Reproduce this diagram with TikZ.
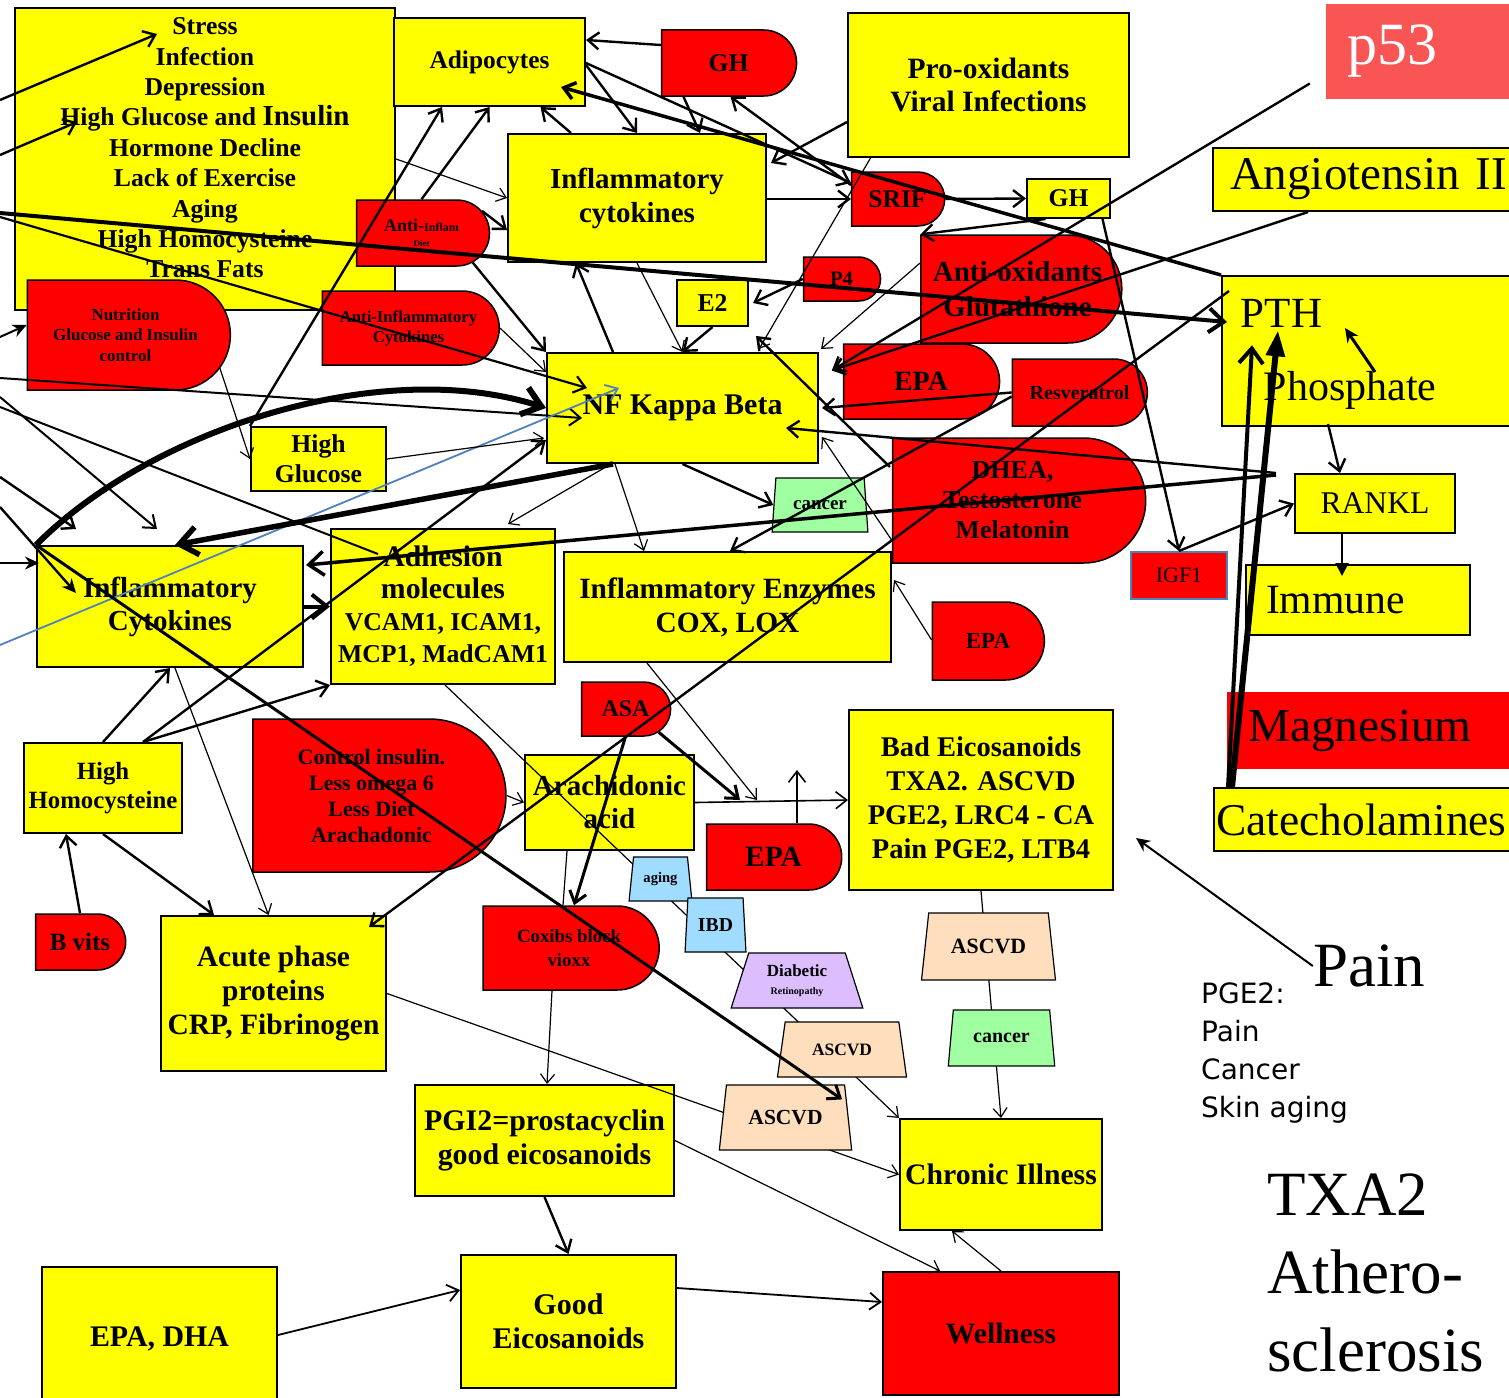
\documentclass[tikz,border=0pt]{standalone}
\usepackage{fontspec}
\setmainfont{Liberation Serif}
\newfontfamily\verd{DejaVu Sans}
\usetikzlibrary{arrows.meta,shapes.misc,shapes.geometric}

\definecolor{ylw}{RGB}{255,255,0}
\definecolor{pfred}{RGB}{250,85,85}
\definecolor{igfblue}{RGB}{79,129,189}
\definecolor{lblue}{RGB}{160,220,255}
\definecolor{lav}{RGB}{220,190,255}
\definecolor{peach}{RGB}{255,222,190}
\definecolor{grn}{RGB}{160,255,160}
\newcommand{\fsz}[2]{\fontsize{#1}{#2}\selectfont}

\begin{document}
\begin{tikzpicture}[x=1pt, y=-1pt,
  sz/.style 2 args={minimum width=#1pt, minimum height=#2pt},
  fb/.style 2 args={font=\bfseries\fontsize{#1}{#2}\selectfont},
  fr/.style 2 args={font=\fontsize{#1}{#2}\selectfont},
  ybox/.style={draw, fill=ylw, line width=2pt, align=center, inner sep=0pt},
  rbox/.style={draw, fill=red, line width=1.5pt, rounded rectangle,
               rounded rectangle left arc=none, align=center, inner sep=0pt},
  trap/.style={draw, line width=1.2pt, trapezium, trapezium stretches=true,
               align=center, inner sep=0pt},
  arr/.style={-{Straight Barb[length=11pt,width=17pt]}, line width=2.4pt},
  thn/.style={-{Straight Barb[length=9pt,width=14pt]}, line width=1.2pt},
  thk/.style={-{Straight Barb[length=15pt,width=24pt]}, line width=4pt},
  fat/.style={-{Straight Barb[length=18pt,width=28pt]}, line width=6pt},
  fil/.style={-{Stealth[length=14pt,width=13pt]}, line width=2.4pt},
  tri/.style={-{Triangle[length=13pt,width=13pt]}, line width=2pt},
  bluearr/.style={-{Straight Barb[length=11pt,width=17pt]}, line width=1.8pt, draw=igfblue}]
\fill[white] (0,0) rectangle (1509,1397);
\useasboundingbox (0,0) rectangle (1509,1397);
\clip (0,0) rectangle (1509,1397);

\coordinate (offA) at (0,100);
\coordinate (offB) at (0,155);
\coordinate (offC) at (0,213);
\coordinate (offD) at (0,217);
\coordinate (offE) at (0,378);
\coordinate (offF) at (0,337);
\coordinate (offG) at (0,397);
\coordinate (offH) at (0,477);
\coordinate (offI) at (0,507);
\coordinate (offJ) at (0,563);
\coordinate (offK) at (0,407);
\coordinate (offL) at (0,645);
\coordinate (flowA) at (757,800);
\coordinate (flowB) at (740,800);
\coordinate (flowC) at (797,770);

\node[ybox, sz={380}{302}, fb={25.7}{30.4}] (stress) at (205,159) {Stress\\Infection\\Depression\\High Glucose and {\fsz{29}{30.4}Insulin}\\Hormone Decline\\Lack of Exercise\\Aging\\High Homocysteine\\Trans Fats\\[-8pt]\mbox{}};
\node[ybox, sz={191}{88}, fb={25.4}{30}] (adipo) at (489.5,62) {Adipocytes};
\node[rbox, sz={135}{66}, fb={25.7}{30}] (ghr) at (728.5,63) {GH};
\node[ybox, sz={281}{144}, fb={29.5}{33}] (prox) at (988.5,85) {Pro-oxidants\\Viral Infections};
\node[fill=pfred, minimum height=95pt, inner xsep=21pt, text width=152pt, align=left, text=white, fr={60}{60}] (pfs) at (1423,51.5) {p53};
\node[ybox, sz={258}{128}, fb={29}{34}] (cytu) at (637,198) {Inflammatory\\cytokines};
\node[rbox, sz={93}{54}, fb={25.5}{30}] (srif) at (897.5,199) {SRIF};
\node[ybox, sz={83}{39}, fb={25.6}{30}] (ghy) at (1068.5,198.5) {GH};
\node[ybox, minimum height=63pt, inner xsep=17pt, text width=300pt, align=left, fr={47}{50}] (angio) at (1380,179.5) {Angiotensin II};
\node[rbox, sz={133}{66}, fb={18}{18}] (aid) at (421.5,233) {Anti-{\fsz{12}{12}Inflam}\\[-3pt]{\fsz{9}{9}Diet}};
\node[rbox, sz={201}{108}, fb={29}{35}] (antiox) at (1017.5,289) {Anti-oxidants\\Glutathione};
\node[rbox, sz={77}{44}, fb={20.7}{24}] (pfour) at (841.5,279) {P4};
\node[ybox, sz={71}{46}, fb={25.7}{30}] (etwo) at (712.5,303) {E2};
\node[ybox, sz={298}{150}] (pth) at (1371,351) {};
\node[fr={43}{43}, inner sep=0pt] (pthtxt) at (1281.5,313) {PTH};
\node[fr={42}{42}, inner sep=0pt] (phostxt) at (1350,390) {Phosphate};
\node[rbox, sz={203}{110}, fb={17}{20.5}] (nutr) at (125.5,335) {Nutrition\\Glucose and Insulin\\control};
\node[rbox, sz={177}{74}, fb={16.7}{20}] (aic) at (408.5,328) {Anti-Inflammatory\\Cytokines};
\node[ybox, sz={271}{110}, fb={30}{34}] (nfkb) at (682.5,408) {NF Kappa Beta};
\node[rbox, sz={156}{75}, fb={28}{30}] (epau) at (921,381.5) {EPA};
\node[rbox, sz={135}{67}, fb={20}{24}] (resv) at (1079.5,392.5) {Resveratrol};
\node[ybox, sz={135}{64}, fb={25.7}{30}] (hglu) at (318.5,459) {High\\Glucose};
\node[rbox, sz={253}{125}, fb={26}{30}] (dhea) at (1012.5,500.5) {DHEA,\\Testosterone\\Melatonin};
\node[ybox, sz={160}{59}, fr={31.6}{34}] (rankl) at (1375,503.5) {RANKL};
\node[draw=igfblue, fill=red, line width=2pt, sz={96}{47}, fr={22}{24}, inner sep=0pt] (igf) at (1179,575.5) {IGF1};
\node[ybox, sz={266}{121}, fb={29}{33}] (cytl) at (170,606.5) {Inflammatory\\Cytokines};
\node[ybox, sz={224}{155}, fb={29.8}{32}] (adh) at (443,606.5) {Adhesion\\molecules\\{\fsz{25.7}{30}VCAM1, ICAM1,}\\{\fsz{25.7}{30}MCP1, MadCAM1}};
\node[ybox, sz={327}{110}, fb={29.4}{34}] (enz) at (727.5,607) {Inflammatory Enzymes\\COX, LOX};
\node[ybox, minimum height=70pt, inner xsep=20pt, text width=184pt, align=left, fr={41.7}{44}] (immune) at (1358,600) {Immune};
\node[rbox, sz={112}{78}, fb={23}{26}] (epam) at (988,641) {EPA};
\node[rbox, sz={89}{54}, fb={24}{26}] (asa) at (625.5,709) {ASA};
\node[fill=red, minimum height=77pt, inner xsep=21pt, text width=251pt, align=left, fr={47.4}{50}] (mag) at (1373.5,730.5) {Magnesium};
\node[ybox, sz={158}{90}, fb={24.8}{29}] (hhcy) at (103,788) {High\\Homocysteine};
\node[rbox, sz={253}{153}, fb={22}{26}] (ctrl) at (371.5,795.5) {Control insulin.\\Less omega 6\\Less Diet\\Arachadonic};
\node[ybox, sz={169}{95}, fb={29}{33}] (arach) at (609.5,802.5) {Arachidonic\\acid};
\node[ybox, sz={264}{180}, fb={28.5}{34}] (bad) at (981,800) {Bad Eicosanoids\\TXA2. ASCVD\\PGE2, LRC4 - CA\\Pain PGE2, LTB4};
\node[rbox, sz={135}{66}, fb={29.5}{30}] (epal) at (773.5,857) {EPA};
\node[ybox, minimum height=63pt, inner xsep=2pt, text width=302pt, align=left, fr={45.5}{50}] (cat) at (1367,819.5) {Catecholamines};
\node[rbox, sz={176}{84}, fb={18.8}{24}] (cox) at (569,948) {Coxibs block\\vioxx};
\node[rbox, sz={90}{56}, fb={25}{28}] (bvit) at (80,942) {B vits};
\node[ybox, sz={225}{155}, fb={29.5}{34}] (acute) at (273.5,993.5) {Acute phase\\proteins\\CRP, Fibrinogen};
\node[ybox, sz={259}{111}, fb={29.9}{34}] (pgi) at (544.5,1140.5) {PGI2=prostacyclin\\good eicosanoids};
\node[ybox, sz={202}{111}, fb={29.7}{34}] (chronic) at (1001,1174.5) {Chronic Illness};
\node[ybox, sz={235}{143}, fb={29.9}{34}] (epadha) at (159.5,1338.5) {EPA, DHA};
\node[ybox, sz={215}{133}, fb={30}{34}] (good) at (568.5,1321.5) {Good\\Eicosanoids};
\node[draw, fill=red, line width=2pt, sz={236}{123}, fb={29.6}{34}, inner sep=0pt, align=center] (well) at (1001,1333.5) {Wellness};
\node[anchor=north west, align=left, inner sep=0pt, font=\verd\fontsize{28}{38}\selectfont] (pge) at (1201,983) {PGE2:\\Pain\\Cancer\\Skin aging};
\node[fr={63}{63}, inner sep=0pt] (pain) at (1369,966) {Pain};
\node[anchor=north west, align=left, inner sep=0pt, fr={63}{78}] (txa) at (1267,1174) {TXA2\\Athero-\\sclerosis};

\draw[thn] ([xshift=2pt]adh.south) -- (chronic.north west);
\draw[thn] (bad.south) -- (chronic.north);
\draw[thn] (acute.east) -- (chronic.west);

\node[trap, fill=grn, sz={96}{54}, trapezium angle=76, fb={19}{20}] (canu) at (820,505) {cancer};
\node[trap, fill=lblue, sz={63}{44}, trapezium angle=78, fb={14.6}{16}] (aging) at (660.5,879) {aging};
\node[trap, fill=lblue, sz={61}{54}, trapezium angle=82, fb={19.7}{22}] (ibd) at (715.5,925) {IBD};
\node[trap, fill=lav, sz={132}{55}, trapezium angle=71, fb={17}{18}] (diab) at (797,980.5) {Diabetic\\{\fsz{10}{11}Retinopathy}};
\node[trap, fill=peach, sz={130}{55}, trapezium angle=71, fb={17.4}{20}] (ascm) at (842,1049.5) {ASCVD};
\node[trap, fill=peach, sz={133}{65}, trapezium angle=73, fb={21.5}{24}] (ascl) at (785.5,1117.5) {ASCVD};
\node[trap, fill=peach, sz={135}{67}, trapezium angle=73, fb={21.8}{24}] (ascr) at (988.5,946.5) {ASCVD};
\node[trap, fill=grn, sz={107}{56}, trapezium angle=73, fb={20}{22}] (canl) at (1001.5,1038) {cancer};

\draw[arr] (offA) -- ([xshift=-48pt,yshift=-27pt]stress.north);
\draw[arr] (offB) -- ([xshift=63pt,yshift=37pt]stress.west);
\draw[thk] (offC) -- ([xshift=6pt,yshift=29pt]pth.west);
\draw[arr, line width=2.2pt] (offD) -- ([xshift=41pt,yshift=20pt]nfkb.west);
\draw[arr, line width=2pt] (offE) -- ([xshift=36pt,yshift=-10pt]nfkb.west);
\draw[fil, line width=2pt] (offF) -- ([yshift=10pt]nutr.west);
\draw[arr, line width=2pt] (offG) -- ([xshift=-13pt,yshift=16pt]cytl.north);
\draw[arr] (offH) -- ([xshift=40pt,yshift=16pt]cytl.north west);
\draw[fil] (offI) -- ([xshift=40pt,yshift=13.5pt]cytl.west);
\draw[fil, line width=2pt] (offJ) -- ([xshift=3pt,yshift=43.5pt]cytl.west);
\draw[line width=2pt] (offK) -- ([xshift=48pt,yshift=-26pt]adh.north west);
\draw[bluearr] (offL) -- ([xshift=73pt,yshift=20pt]nfkb.west);

\draw[thn] (stress.east) -- (cytu.west);
\draw[arr] (aid.20) -- ([yshift=-32pt]cytu.west);
\draw[arr] (aid.north) -- (adipo.south);
\draw[arr] (hglu.north west) -- ([xshift=-47.5pt]adipo.south);
\draw[arr] (aid.-30) -- (nfkb.north west);
\draw[arr] ([xshift=64pt]cytu.north west) -- ([xshift=51pt]adipo.south);
\draw[arr] ([yshift=-3pt]adipo.east) -- (cytu.north);
\draw[arr] ([yshift=-1pt]adipo.east) -- ([yshift=16pt]srif.west);
\draw[arr] ([yshift=18pt]ghr.west) -- ([yshift=22pt]adipo.east);
\draw[arr] ([xshift=-45pt]ghr.south) -- ([xshift=63pt]cytu.north);
\draw[arr] ([yshift=14pt]srif.west) -- ([xshift=2pt]ghr.south);
\draw[arr, line width=3.5pt] (pth.north west) -- ([xshift=-25pt,yshift=-25pt]adipo.east);
\draw[arr] ([yshift=-1pt]cytu.east) -- (srif.west);
\draw[arr] ([yshift=-37pt]prox.west) -- ([xshift=4pt,yshift=35pt]cytu.east);
\draw[thn] ([xshift=-118pt]prox.south) -- ([xshift=-60pt,yshift=3pt]nfkb.north east);
\draw[arr] (srif.east) -- (ghy.west);
\draw[arr] ([xshift=-23pt]ghy.south) -- ([xshift=-97pt]antiox.north);
\draw[arr] ([xshift=34pt]ghy.south) -- (igf.north);
\draw[arr] (igf.north) -- (rankl.west);
\draw[arr] ([xshift=-43pt,yshift=3pt]pth.south) -- ([xshift=-35pt]rankl.north);
\draw[tri] ([xshift=-33pt]rankl.south) -- ([xshift=-16pt,yshift=-12pt]immune.north);
\draw[fil, line width=3pt] ([xshift=25pt,yshift=18pt]phostxt.center) -- ([xshift=63.5pt,yshift=-15pt]pthtxt.center);
\draw[-{Triangle[length=26pt,width=18pt]}, line width=6pt] ([xshift=19pt]cat.north west) -- ([xshift=-3.5pt,yshift=-3pt]pthtxt.south);
\draw[thk] ([xshift=15pt]cat.north west) -- ([xshift=-29.5pt,yshift=-18pt]pthtxt.south);
\draw[fil, line width=2pt] (pain.west) -- ([xshift=22pt,yshift=-38pt]bad.east);
\draw[arr] ([xshift=-16pt,yshift=-32pt]pfs.west) -- ([xshift=-11pt,yshift=11pt]epau.west);
\draw[arr] ([xshift=96pt]angio.south west) -- ([xshift=-11pt,yshift=11pt]epau.west);
\draw[thn] ([yshift=26pt]antiox.west) -- ([xshift=2pt,yshift=3pt]nfkb.north east);
\draw[arr] (resv.west) -- ([xshift=3pt]nfkb.east);
\draw[arr] ([xshift=-2pt,yshift=33.5pt]dhea.west) -- ([xshift=-63pt,yshift=16pt]nfkb.north east);
\draw[thn] ([yshift=-40pt]dhea.west) -- ([xshift=3pt,yshift=-29pt]nfkb.east);
\draw[arr] ([xshift=-18pt]rankl.north west) -- ([xshift=-33pt,yshift=-20pt]nfkb.east);
\draw[thk, line width=3.5pt] ([xshift=-18pt,yshift=-2pt]rankl.north west) -- ([xshift=2pt,yshift=41.5pt]cytl.east);
\draw[fat, line width=5.5pt] ([xshift=-69.5pt]nfkb.south) -- ([xshift=5pt]cytl.north);
\draw[fat] (cytl.north west) .. controls (150,430) and (380,355) .. (nfkb.west);
\draw[arr] (hhcy.north) -- (cytl.south);
\draw[arr] ([xshift=40pt]hhcy.north) -- (adh.south west);
\draw[arr] ([xshift=40pt]hhcy.north) -- ([yshift=-32pt]nfkb.west);
\draw[thn] (hglu.east) -- ([xshift=-2pt,yshift=-30pt]nfkb.west);
\draw[thn] ([xshift=94pt,yshift=-32pt]nutr.center) -- (hglu.west);
\draw[thn] (aic.east) -- ([yshift=36pt]nfkb.west);
\draw[thk] (cytl.east) -- (adh.west);
\draw[thn] ([xshift=-71.5pt]nfkb.south) -- ([xshift=-48pt,yshift=4pt]adh.north east);
\draw[thn] ([xshift=-67.5pt]nfkb.south) -- ([xshift=81pt]enz.north west);
\draw[arr] (nfkb.south) -- (canu.west);
\draw[arr] ([yshift=-4pt]resv.west) -- ([xshift=2.5pt]enz.north);
\draw[thn] ([yshift=1pt]epam.west) -- ([xshift=2pt,yshift=27pt]enz.east);
\draw[thn] ([xshift=84pt]enz.south west) -- (flowA);
\draw[arr, line width=3pt] (asa.-35) -- (flowB);
\draw[arr, line width=1.6pt] (arach.east) -- (bad.west);
\draw[arr, line width=1.6pt] ([xshift=23.5pt]epal.north) -- (flowC);
\draw[thn] (ctrl.east) -- (arach.west);
\draw[arr, line width=3pt] (asa.south) -- ([xshift=5pt]cox.north);
\draw[line width=1.2pt] ([xshift=-42.5pt]arach.south) -- ([xshift=-6pt]cox.north);
\draw[thn] ([xshift=-17pt]cox.south) -- ([xshift=2.5pt]pgi.north);
\draw[arr, line width=3pt] (cytl.north west) -- ([xshift=-3pt,yshift=-15pt]ascl.top right corner);
\draw[arr] ([xshift=8pt,yshift=-16pt]pth.north west) -- ([xshift=-18pt,yshift=-12pt]acute.north east);
\draw[thn] ([xshift=5pt]cytl.south) -- ([xshift=-5pt]acute.north);
\draw[arr] (hhcy.south) -- ([xshift=54pt]acute.north west);
\draw[arr] (bvit.north) -- ([xshift=-37pt]hhcy.south);
\draw[thn] (pgi.east) -- ([xshift=-61pt]well.north);
\draw[arr] (pgi.south) -- (good.north);
\draw[arr, line width=1.8pt] ([yshift=3.5pt]epadha.east) -- ([yshift=31.5pt]good.west);
\draw[arr, line width=1.8pt] ([yshift=33.5pt]good.east) -- ([yshift=31.5pt]well.west);
\draw[thn] (well.north) -- ([xshift=-49pt]chronic.south);
\draw[arr] (pfour.west) -- ([xshift=4pt]etwo.east);
\draw[arr] (etwo.south) -- (nfkb.north);
\draw[thn] (cytu.south) -- (nfkb.north);
\draw[arr] ([xshift=-69.5pt]nfkb.north) -- ([xshift=-61pt]cytu.south);
\end{tikzpicture}
\end{document}
